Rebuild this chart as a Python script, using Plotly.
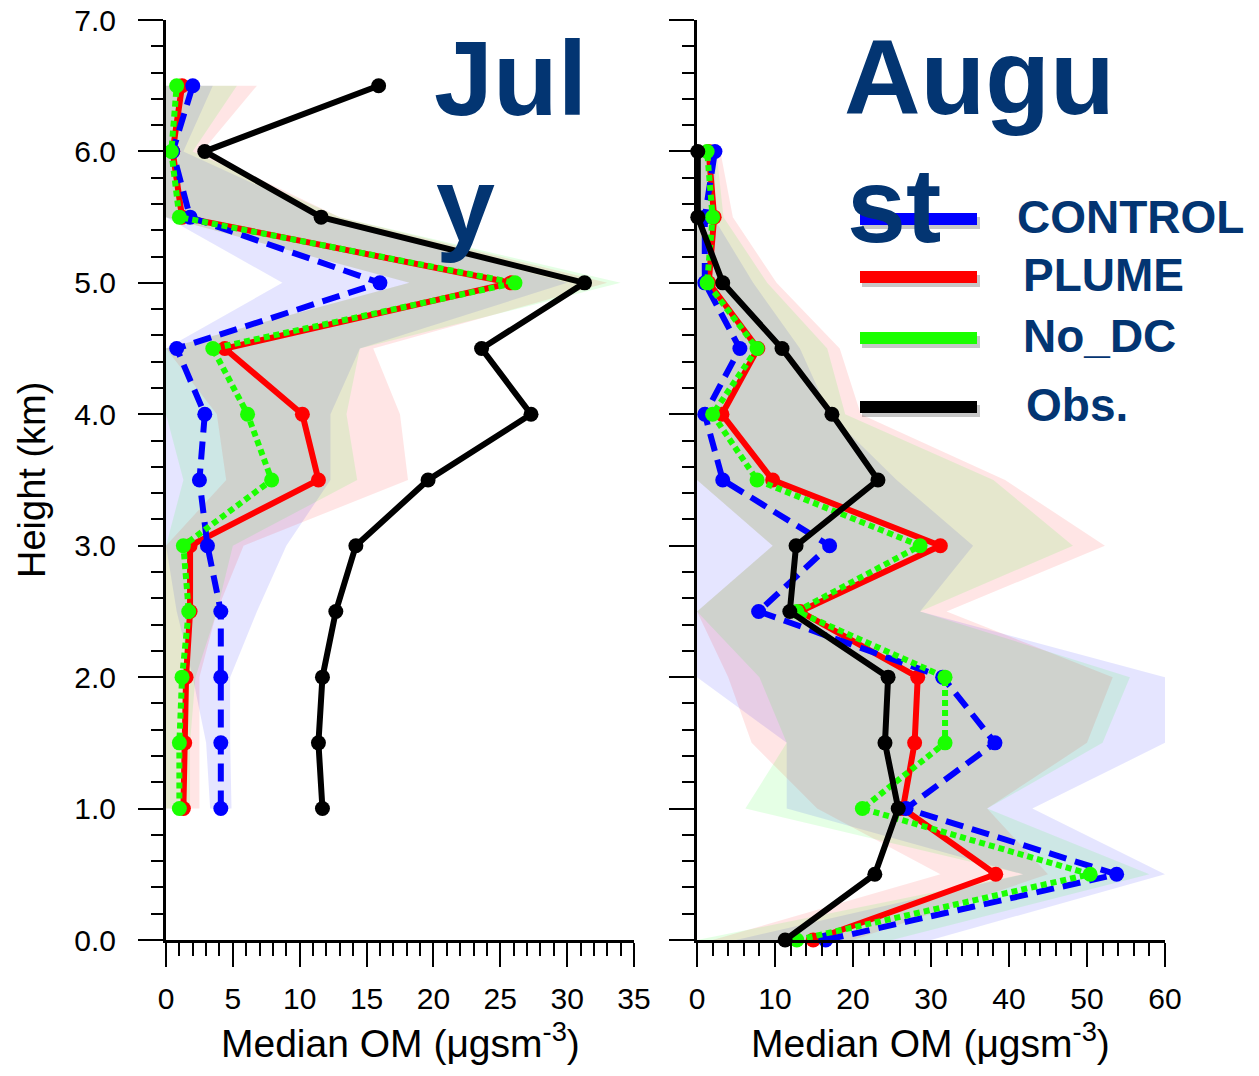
import plotly.graph_objects as go

# The page body has an 8 px margin, so the figure is sized to fill the
# 1259x1076 window exactly and reference pixel positions are shifted by 8.
PAGE_W, PAGE_H = 1259, 1076
OFF = 8
W, H = PAGE_W - 2 * OFF, PAGE_H - 2 * OFF


def px(x):
    return (x - OFF) / W


def py(y):
    return 1 - (y - OFF) / H


# ---------------- data: July (left panel) ----------------
jul_heights = [1.0, 1.5, 2.0, 2.5, 3.0, 3.5, 4.0, 4.5, 5.0, 5.5, 6.0, 6.5]
jul_control = [4.1, 4.1, 4.1, 4.1, 3.1, 2.5, 2.9, 0.8, 16.0, 1.8, 0.5, 2.0]
jul_plume = [1.3, 1.4, 1.5, 1.8, 1.8, 11.4, 10.2, 4.4, 25.8, 1.2, 0.5, 1.2]
jul_nodc = [1.0, 1.0, 1.2, 1.7, 1.3, 7.9, 6.1, 3.5, 26.1, 1.0, 0.4, 0.8]
jul_obs = [11.7, 11.4, 11.7, 12.7, 14.2, 19.6, 27.3, 23.6, 31.3, 11.6, 2.9, 15.9]

jul_control_lo = [3.3, 3.0, 2.0, 0.8, 0.0, 0.0, 0.0, 0.0, 8.7, 0.0, 0.0, 0.0]
jul_control_hi = [4.9, 4.8, 4.8, 6.8, 9.0, 12.3, 12.3, 14.5, 30.0, 12.0, 1.3, 3.5]
jul_plume_lo = [0.0, 0.0, 0.0, 0.0, 0.0, 4.5, 3.8, 0.0, 18.2, 0.0, 0.0, 0.0]
jul_plume_hi = [2.5, 2.5, 2.5, 3.8, 5.8, 18.1, 17.5, 15.5, 33.0, 13.0, 2.7, 6.8]
jul_nodc_lo = [0.0, 0.0, 0.0, 0.0, 0.0, 1.3, 0.0, 0.0, 18.2, 0.0, 0.0, 0.0]
jul_nodc_hi = [1.8, 1.8, 2.2, 3.8, 5.0, 14.3, 13.5, 14.5, 34.0, 13.0, 2.0, 5.3]

# ---------------- data: August (right panel) ----------------
aug_heights = [0.0, 0.5, 1.0, 1.5, 2.0, 2.5, 3.0, 3.5, 4.0, 4.5, 5.0, 5.5, 6.0]
aug_control = [16.5, 53.8, 26.8, 38.2, 31.5, 7.9, 17.0, 3.3, 1.0, 5.5, 1.0, 1.0, 2.3]
aug_plume = [14.9, 38.3, 26.4, 27.9, 28.3, 13.2, 31.2, 9.7, 3.2, 7.8, 1.5, 2.2, 1.5]
aug_nodc = [12.8, 50.4, 21.2, 31.8, 31.8, 12.8, 28.6, 7.7, 2.0, 7.7, 1.3, 2.0, 1.3]
aug_obs = [11.3, 22.8, 25.8, 24.1, 24.5, 11.9, 12.7, 23.2, 17.3, 10.9, 3.3, 0.1, 0.1]

aug_control_lo = [5.0, 41.8, 11.5, 11.5, 0.0, 0.0, 0.0, 0.0, 0.0, 0.0, 0.0, 0.0, 0.0]
aug_control_hi = [30.0, 60.0, 43.0, 60.0, 60.0, 28.6, 35.4, 25.6, 17.0, 13.2, 7.2, 2.1, 2.5]
aug_plume_lo = [2.0, 31.2, 15.4, 7.0, 4.0, 0.0, 9.7, 0.0, 0.0, 0.0, 0.0, 0.0, 0.0]
aug_plume_hi = [20.0, 45.0, 37.2, 50.0, 53.3, 32.0, 52.3, 39.5, 21.0, 18.3, 10.2, 4.6, 3.0]
aug_nodc_lo = [0.0, 41.8, 6.2, 11.5, 8.0, 0.0, 9.7, 0.0, 0.0, 0.0, 0.0, 0.0, 0.0]
aug_nodc_hi = [25.0, 58.0, 37.2, 52.0, 55.5, 28.6, 48.2, 38.0, 19.0, 16.7, 9.0, 3.4, 2.5]

series_names = ["CONTROL", "PLUME", "No_DC", "Obs."]
jul_range = [0, 35]
aug_range = [0, 60]
height_range = [0, 7]

# ---------------- styles ----------------
BLUE = "#0000ff"
RED = "#ff0000"
GREEN = "#1aff00"
BLACK = "#000000"
NAVY = "#033572"
FONT = "Liberation Sans, Arial, sans-serif"

band_fill = {
    "CONTROL": "rgba(0,0,255,0.10)",
    "PLUME": "rgba(255,0,0,0.10)",
    "No_DC": "rgba(0,255,0,0.10)",
}
line_style = {
    "CONTROL": dict(color=BLUE, width=6, dash="18px,9px"),
    "PLUME": dict(color=RED, width=6),
    "No_DC": dict(color=GREEN, width=6, dash="6px,4px"),
    "Obs.": dict(color=BLACK, width=6),
}
marker_size = {"CONTROL": 15, "PLUME": 15, "No_DC": 15, "Obs.": 15}

fig = go.Figure()


def add_panel(xa, ya, h, meds, bands):
    for name in ["CONTROL", "PLUME", "No_DC"]:
        lo, hi = bands[name]
        fig.add_trace(go.Scatter(
            x=list(lo) + list(hi)[::-1], y=list(h) + list(h)[::-1],
            fill="toself", fillcolor=band_fill[name], mode="lines",
            line=dict(width=0), hoverinfo="skip", showlegend=False,
            xaxis=xa, yaxis=ya))
    for name in ["PLUME", "CONTROL", "No_DC", "Obs."]:
        fig.add_trace(go.Scatter(
            x=meds[name], y=h, mode="lines+markers", name=name,
            line=line_style[name],
            marker=dict(size=marker_size[name], color=line_style[name]["color"]),
            cliponaxis=False, showlegend=False, xaxis=xa, yaxis=ya))


add_panel("x", "y", jul_heights,
          {"CONTROL": jul_control, "PLUME": jul_plume, "No_DC": jul_nodc, "Obs.": jul_obs},
          {"CONTROL": (jul_control_lo, jul_control_hi),
           "PLUME": (jul_plume_lo, jul_plume_hi),
           "No_DC": (jul_nodc_lo, jul_nodc_hi)})
add_panel("x2", "y2", aug_heights,
          {"CONTROL": aug_control, "PLUME": aug_plume, "No_DC": aug_nodc, "Obs.": aug_obs},
          {"CONTROL": (aug_control_lo, aug_control_hi),
           "PLUME": (aug_plume_lo, aug_plume_hi),
           "No_DC": (aug_nodc_lo, aug_nodc_hi)})

ydom = [py(940), py(20)]
common_axis = dict(showline=True, linewidth=3, linecolor="black", showgrid=False,
                   zeroline=False, ticks="outside", tickwidth=2, tickcolor="black",
                   automargin=False, ticklabeloverflow="allow",
                   tickfont=dict(family=FONT, size=30, color="black"))

fig.update_layout(
    width=W, height=H, margin=dict(l=0, r=0, t=0, b=0, autoexpand=False),
    paper_bgcolor="white", plot_bgcolor="white", showlegend=False,
    xaxis=dict(domain=[px(166), px(634)], range=jul_range, anchor="y",
               dtick=5, tick0=0, ticklen=24, ticklabelstandoff=6,
               minor=dict(dtick=1, tick0=0, ticklen=13, tickwidth=2, ticks="outside",
                          tickcolor="black", showgrid=False),
               **common_axis),
    yaxis=dict(domain=ydom, range=height_range, anchor="x",
               dtick=1, tick0=0, tickformat=".1f", ticklen=25, ticklabelstandoff=16,
               minor=dict(dtick=0.2, tick0=0, ticklen=12, tickwidth=2, ticks="outside",
                          tickcolor="black", showgrid=False),
               **common_axis),
    xaxis2=dict(domain=[px(697), px(1165)], range=aug_range, anchor="y2",
                dtick=10, tick0=0, ticklen=24, ticklabelstandoff=6,
                minor=dict(dtick=2, tick0=0, ticklen=13, tickwidth=2, ticks="outside",
                           tickcolor="black", showgrid=False),
                **common_axis),
    yaxis2=dict(domain=ydom, range=height_range, anchor="x2",
                dtick=1, tick0=0, ticklen=25, showticklabels=False,
                minor=dict(dtick=0.2, tick0=0, ticklen=12, tickwidth=2, ticks="outside",
                           tickcolor="black", showgrid=False),
                **common_axis),
)

annotations = []


def ann(text, x, y, size, xanchor="left", yanchor="middle", bold=False,
        color=NAVY, angle=0):
    annotations.append(dict(
        text=f"<b>{text}</b>" if bold else text, x=px(x), y=py(y),
        xref="paper", yref="paper", xanchor=xanchor, yanchor=yanchor,
        showarrow=False, textangle=angle,
        font=dict(family=FONT, size=size, color=color)))


# month titles (wrapped as in the original)
ann("Jul", 432, 78, 106, bold=True)
ann("y", 434, 204, 106, bold=True)
ann("Augu", 842, 77, 106, bold=True)
ann("st", 845, 205, 106, bold=True)

# axis titles
ann("Height (km)", 32, 480, 38, xanchor="center", color="black", angle=-90)
ann("Median OM (μgsm<sup>-3</sup>)", 400, 1067, 39, xanchor="center",
    yanchor="bottom", color="black")
ann("Median OM (μgsm<sup>-3</sup>)", 930, 1067, 39, xanchor="center",
    yanchor="bottom", color="black")

# legend
legend_rows = [("CONTROL", BLUE, 219, 1015), ("PLUME", RED, 277, 1021),
               ("No_DC", GREEN, 338, 1021), ("Obs.", BLACK, 407, 1024)]
shapes = []
for name, col, yy, tx in legend_rows:
    shapes.append(dict(type="line", xref="paper", yref="paper",
                       x0=px(862), x1=px(980), y0=py(yy + 4), y1=py(yy + 4),
                       line=dict(color="rgba(0,0,0,0.22)", width=12), layer="above"))
    shapes.append(dict(type="line", xref="paper", yref="paper",
                       x0=px(860), x1=px(977), y0=py(yy), y1=py(yy),
                       line=dict(color=col, width=12), layer="above"))
    ann(name, tx, yy - 2, 46, bold=True)

fig.update_layout(annotations=annotations, shapes=shapes)

fig.write_html("out.html")
